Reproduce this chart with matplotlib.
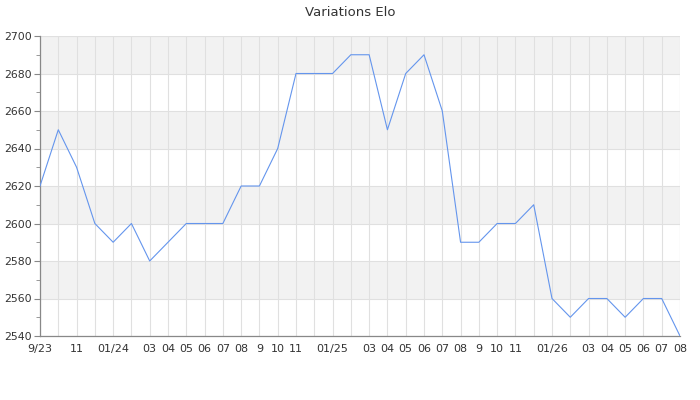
import matplotlib.pyplot as plt
import numpy as np

# one point per month, sep 2023 -> aug 2026
month_labels = ['9/23', '', '11', '', '01/24', '', '03', '04', '05', '06', '07', '08',
                '9', '10', '11', '', '01/25', '', '03', '04', '05', '06', '07', '08',
                '9', '10', '11', '', '01/26', '', '03', '04', '05', '06', '07', '08']
elo = [2620, 2650, 2630, 2600, 2590, 2600, 2580, 2590, 2600, 2600, 2600, 2620,
       2620, 2640, 2680, 2680, 2680, 2690, 2690, 2650, 2680, 2690, 2660, 2590,
       2590, 2600, 2600, 2610, 2560, 2550, 2560, 2560, 2550, 2560, 2560, 2540]
y_ticks = [2540, 2560, 2580, 2600, 2620, 2640, 2660, 2680, 2700]

x = np.arange(len(elo))

fig = plt.figure(figsize=(7, 4), dpi=100)
ax = fig.add_axes([40 / 700, 1 - 336 / 400, 640 / 700, 300 / 400])

# alternating horizontal bands
for i in range(len(y_ticks) - 1):
    if i % 2 == 1:
        ax.axhspan(y_ticks[i], y_ticks[i + 1], color='#f2f2f2', zorder=0, lw=0)

ax.plot(x, elo, color='#6495ED', lw=0.8, zorder=3)

ax.set_xlim(0, len(elo) - 1)
ax.set_ylim(y_ticks[0], y_ticks[-1])
ax.set_xticks(x)
ax.set_xticklabels(month_labels)
ax.set_yticks(y_ticks)
ax.set_yticks(np.arange(2550, 2700, 20), minor=True)

ax.grid(True, which='major', color='#e0e0e0', lw=0.8, zorder=1)
ax.set_axisbelow(True)

for s in ['top', 'right']:
    ax.spines[s].set_visible(False)
for s in ['left', 'bottom']:
    ax.spines[s].set_color('#888888')
    ax.spines[s].set_linewidth(0.9)

ax.tick_params(axis='x', length=0, pad=6, labelsize=8, colors='#333333')
ax.tick_params(axis='y', which='major', length=4, pad=2, color='#888888', labelsize=7.8, labelcolor='#333333')
ax.tick_params(axis='y', which='minor', length=3, color='#888888')
# right and top border lines as grid
ax.axvline(len(elo) - 1, color='#e0e0e0', lw=0.8, zorder=1)
ax.axhline(y_ticks[-1], color='#e0e0e0', lw=0.8, zorder=1)

fig.text(0.5, 1 - 12 / 400, 'Variations Elo', ha='center', va='center', fontsize=9.5, color='#333333')

fig.savefig('out.png', dpi=100)
